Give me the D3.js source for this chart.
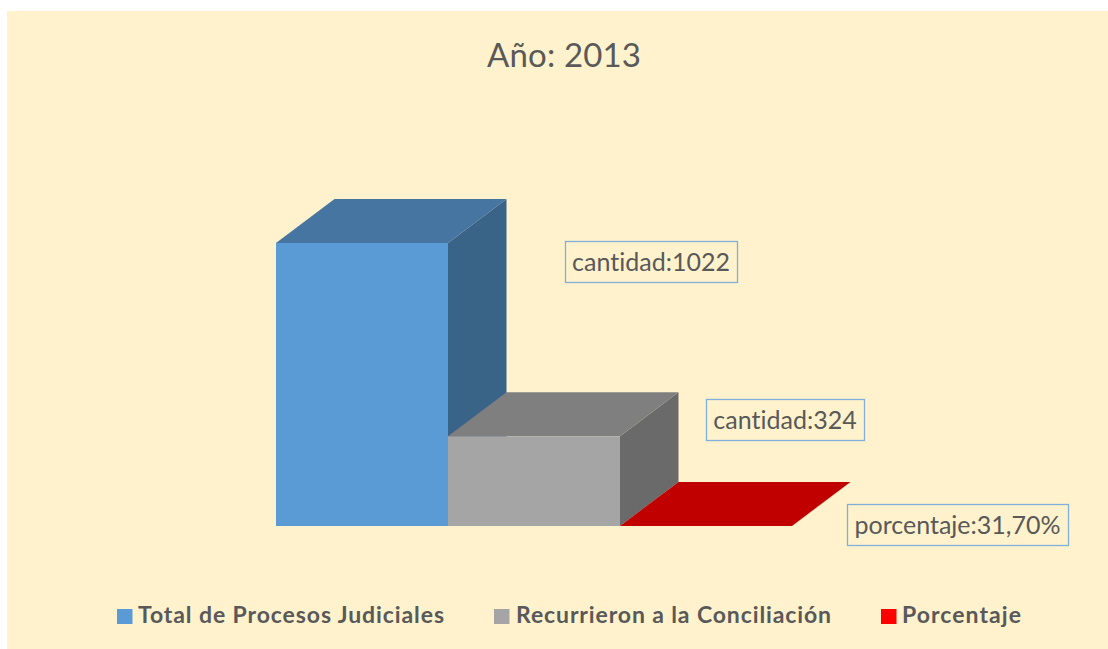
<!DOCTYPE html>
<html>
<head>
<meta charset="utf-8">
<script src="https://d3js.org/d3.v7.min.js"></script>
<style>
html, body { margin: 0; padding: 0; background: #fff; }
svg { display: block; }
text { font-family: Lato, "Open Sans", sans-serif; fill: #595959; font-variant-ligatures: none; }
</style>
</head>
<body>
<div id="chart"></div>
<script>
const categories = ["Total de Procesos Judiciales", "Recurrieron a la Conciliación", "Porcentaje"];
const values = [1022, 324, 0.317];
const valueLabels = ["cantidad:1022", "cantidad:324", "porcentaje:31,70%"];
const frontColors = ["#5b9bd5", "#a5a5a5", "#ff0000"];
const topColors = ["#4575a0", "#7f7f7f", "#c00000"];
const sideColors = ["#3a6487", "#6a6a6a", "#c00000"];

const width = 1108, height = 649;
const depthX = 58.5, depthY = 44;

const svg = d3.select("#chart").append("svg")
    .attr("width", width)
    .attr("height", height);

svg.append("rect")
    .attr("x", 7).attr("y", 11)
    .attr("width", width - 7).attr("height", height - 11)
    .attr("fill", "#fff2cc");

svg.append("text")
    .attr("x", 564).attr("y", 67)
    .attr("text-anchor", "middle")
    .attr("font-size", 33)
    .attr("textLength", 154)
    .text("Año: 2013");

const x = d3.scaleBand().domain(categories).range([276, 792]).padding(0);
const y = d3.scaleLinear().domain([0, 1022]).range([526, 243]);

const bars = svg.selectAll("g.bar").data(categories).enter()
    .append("g").attr("class", "bar");

// side and top faces are drawn first, the front goes over them
bars.append("path")
    .attr("fill", (d, i) => sideColors[i])
    .attr("d", (d, i) => {
        let r = x(d) + x.bandwidth(), t = y(values[i]), b = y(0);
        return `M${r},${t}L${r + depthX},${t - depthY}L${r + depthX},${b - depthY}L${r},${b}Z`;
    });
bars.append("path")
    .attr("fill", (d, i) => topColors[i])
    .attr("d", (d, i) => {
        let l = x(d), r = l + x.bandwidth(), t = y(values[i]);
        return `M${l},${t}L${l + depthX},${t - depthY}L${r + depthX},${t - depthY}L${r},${t}Z`;
    });
bars.append("rect")
    .attr("x", d => x(d))
    .attr("y", (d, i) => y(values[i]))
    .attr("width", x.bandwidth())
    .attr("height", (d, i) => y(0) - y(values[i]))
    .attr("fill", (d, i) => frontColors[i]);

// data labels, placed by hand like in the original
const labelBoxes = [[565, 241, 172, 41], [706, 399, 158, 41], [847, 504, 221, 41]];
const labels = svg.selectAll("g.label").data(valueLabels).enter()
    .append("g").attr("class", "label");
labels.append("rect")
    .attr("x", (d, i) => labelBoxes[i][0] + 0.5)
    .attr("y", (d, i) => labelBoxes[i][1] + 0.5)
    .attr("width", (d, i) => labelBoxes[i][2])
    .attr("height", (d, i) => labelBoxes[i][3])
    .attr("fill", "none")
    .attr("stroke", "#7fb0dc")
    .attr("stroke-width", 1.3);
labels.append("text")
    .attr("x", (d, i) => labelBoxes[i][0] + labelBoxes[i][2] / 2)
    .attr("y", (d, i) => labelBoxes[i][1] + 30)
    .attr("text-anchor", "middle")
    .attr("font-size", 25)
    .text(d => d);

// legend
const legendSwatchX = [117, 494, 881];
const legendTextX = [138, 516, 902];
const legendTextW = [306, 315, 119];
const legend = svg.selectAll("g.legend").data(categories).enter()
    .append("g").attr("class", "legend");
legend.append("rect")
    .attr("x", (d, i) => legendSwatchX[i])
    .attr("y", 609)
    .attr("width", 15.5).attr("height", 15)
    .attr("fill", (d, i) => frontColors[i]);
legend.append("text")
    .attr("x", (d, i) => legendTextX[i])
    .attr("y", 623)
    .attr("font-size", 23)
    .attr("font-weight", "bold")
    .attr("textLength", (d, i) => legendTextW[i])
    .text(d => d);
</script>
</body>
</html>
